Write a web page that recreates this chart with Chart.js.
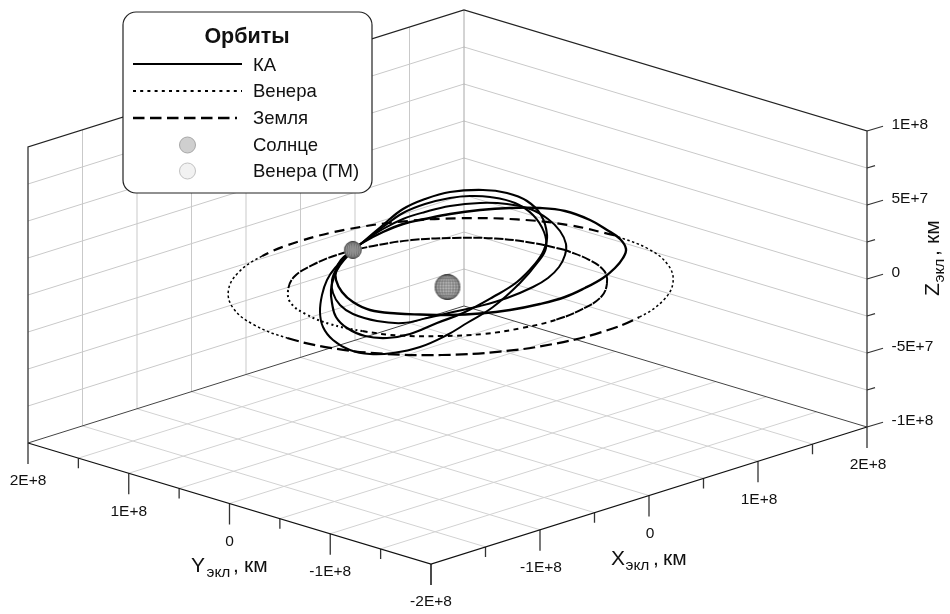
<!DOCTYPE html>
<html>
<head>
<meta charset="utf-8">
<title>Орбиты</title>
<script src="https://cdn.jsdelivr.net/npm/chart.js@4"></script>
<style>
  body { margin: 0; background: #fff; }
  canvas { display: block; }
</style>
</head>
<body>
<canvas id="orbitChart" width="950" height="614"></canvas>
<script>
// Axis ticks, km
const xyTicks = [-2e8, -1.5e8, -1e8, -5e7, 0, 5e7, 1e8, 1.5e8, 2e8];
const zTicks = [-1e8, -7.5e7, -5e7, -2.5e7, 0, 2.5e7, 5e7, 7.5e7, 1e8];
const xyLabels = [[-1e8, '-1E+8'], [0, '0'], [1e8, '1E+8'], [2e8, '2E+8']];
const yLabels = [[-2e8, '-2E+8'], [-1e8, '-1E+8'], [0, '0'], [1e8, '1E+8'], [2e8, '2E+8']];
const zLabels = [[-1e8, '-1E+8'], [-5e7, '-5E+7'], [0, '0'], [5e7, '5E+7'], [1e8, '1E+8']];

// Planet orbits in the ecliptic plane, units of 1E+8 km
const earthX = [1.52, 1.47, 1.32, 1.08, .77, .41, .02, -.37, -.73, -1.04, -1.28, -1.43, -1.48, -1.43, -1.28, -1.04, -.73, -.37, .02, .41, .77, 1.08, 1.32, 1.47, 1.52];
const earthY = [-.01, .38, .74, 1.05, 1.29, 1.44, 1.49, 1.44, 1.29, 1.05, .74, .38, -.01, -.40, -.76, -1.07, -1.31, -1.46, -1.51, -1.46, -1.31, -1.07, -.76, -.40, -.01];
const venusX = [1.08, 1.04, .94, .76, .54, .28, 0, -.28, -.54, -.76, -.94, -1.04, -1.08, -1.04, -.94, -.76, -.54, -.28, 0, .28, .54, .76, .94, 1.04, 1.08];
const venusY = [0, .28, .54, .76, .94, 1.04, 1.08, 1.04, .94, .76, .54, .28, 0, -.28, -.54, -.76, -.94, -1.04, -1.08, -1.04, -.94, -.76, -.54, -.28, 0];

// Bodies, units of 1E+8 km
const sunPos = [0, 0, 0];
const venusPos = [0.13, 1.08, 0];

// Spacecraft loops, in picture-plane units (3D depth is not recoverable)
const scAx = [353, 362, 383, 403, 425, 450, 480, 510, 540, 565, 590, 607, 620, 626, 623, 615, 603, 585, 565, 540, 510, 480, 450, 420, 397, 370, 353, 342, 336, 336, 341, 353];
const scAy = [250, 243, 232, 224, 219, 214, 210, 208, 208, 211, 220, 230, 239, 249, 258, 268, 278, 288, 297, 304, 310, 313.5, 315, 314.5, 313.5, 310, 302, 292, 280, 270, 260, 250];
const scBx = [353, 362, 383, 403, 425, 450, 480, 507, 530, 548, 560, 566, 565, 559, 548, 533, 507, 480, 453, 427, 403, 377, 353, 340, 333, 332, 337, 345, 353];
const scBy = [250, 243, 229, 219, 212, 206, 203, 204, 209, 219, 231, 244, 255, 267, 278, 287, 298, 306, 312, 318, 323, 321, 314, 305, 293, 280, 268, 257, 250];
const scCx = [353, 362, 383, 403, 425, 450, 483, 507, 527, 541, 547, 544, 535, 517, 493, 463, 437, 410, 387, 365, 347, 336, 332, 331, 334, 340, 353];
const scCy = [250, 243, 225, 209, 199, 192, 190, 193, 201, 215, 235, 250, 264, 282, 297, 313, 323, 334, 338, 336, 328, 317, 303, 290, 277, 265, 250];
const scDx = [353, 362, 383, 403, 425, 450, 470, 490, 515, 533, 544, 546, 538, 520, 493, 467, 447, 420, 393, 370, 350, 333, 323, 320, 322, 327, 335, 353];
const scDy = [250, 243, 227, 213, 204, 198, 196, 197, 203, 215, 232, 248, 262, 283, 307, 323, 335, 347, 353, 354, 350, 340, 327, 312, 295, 280, 268, 250];

const FONT = '"Liberation Sans", Arial, sans-serif';

// Parallel projection of the box onto the picture plane
function project(x, y, z) {
  const u = (x + 2) / 4, v = (y + 2) / 4, w = (z + 1) / 2;
  return { x: 431 + 436 * u - 403 * v, y: 564 - 137 * u - 121 * v - 296 * w };
}
function km(x, y, z) { return project(x / 1e8, y / 1e8, z / 1e8); }

const datasets = [];
function addLine(points, color, width, order) {
  datasets.push({ data: points, showLine: true, pointRadius: 0, borderColor: color, borderWidth: width, order: order, tension: 0 });
}

// Walls and floor grid
zTicks.slice(1, -1).forEach(function(z) {
  addLine([km(-2e8, 2e8, z), km(2e8, 2e8, z), km(2e8, -2e8, z)], '#c9c9c9', 1, 9);
});
xyTicks.slice(1, -1).forEach(function(t) {
  addLine([km(t, 2e8, -1e8), km(t, 2e8, 1e8)], '#c9c9c9', 1, 9);
  addLine([km(t, 2e8, -1e8), km(t, -2e8, -1e8)], '#d2d2d2', 1, 9);
  addLine([km(-2e8, t, -1e8), km(2e8, t, -1e8)], '#d2d2d2', 1, 9);
});
addLine([km(2e8, 2e8, -1e8), km(2e8, 2e8, 1e8)], '#a8a8a8', 1, 8);

// Box edges
addLine([km(-2e8, 2e8, -1e8), km(-2e8, 2e8, 1e8), km(2e8, 2e8, 1e8), km(2e8, -2e8, 1e8), km(2e8, -2e8, -1e8)], '#222', 1.2, 7);
addLine([km(-2e8, 2e8, -1e8), km(2e8, 2e8, -1e8), km(2e8, -2e8, -1e8)], '#444', 1, 7);
addLine([km(-2e8, 2e8, -1e8), km(-2e8, -2e8, -1e8), km(2e8, -2e8, -1e8)], '#111', 1.3, 7);

// Axis tick marks
xyTicks.forEach(function(t, i) {
  const len = i % 2 === 0 ? 21 : 10;
  const a = km(-2e8, t, -1e8), b = km(t, -2e8, -1e8);
  addLine([a, { x: a.x, y: a.y + len }], '#333', 1.3, 7);
  addLine([b, { x: b.x, y: b.y + len }], '#333', 1.3, 7);
});
zTicks.forEach(function(z, i) {
  const s = i % 2 === 0 ? 1 : 0.5;
  const a = km(2e8, -2e8, z);
  addLine([a, { x: a.x + 16 * s, y: a.y - 4.8 * s }], '#333', 1.2, 7);
});

// Orbits: dash length follows the foreshortening of the drawn ellipse
function orbitData(xs, ys) {
  return xs.map(function(x, i) { return project(x, ys[i], 0); });
}
datasets.push({
  data: orbitData(earthX, earthY), showLine: true, pointRadius: 0, borderColor: '#000', borderWidth: 2, tension: 0.4, order: 4,
  segment: {
    borderDash: function(ctx) {
      const x = ctx.p0.parsed.x, y = ctx.p0.parsed.y;
      if (x < 265 || x > 625) return [2.5, 2.5];
      return y > 287 ? [12, 5] : [10, 6];
    },
    borderWidth: function(ctx) {
      const x = ctx.p0.parsed.x;
      return (x < 265 || x > 625) ? 1.5 : 2.2;
    }
  }
});
datasets.push({
  data: orbitData(venusX, venusY), showLine: true, pointRadius: 0, borderColor: '#000', borderWidth: 2, tension: 0.4, order: 4,
  segment: {
    borderDash: function(ctx) {
      const x = ctx.p0.parsed.x, y = ctx.p0.parsed.y;
      if (y < 287) return [9, 1.5];
      if (x > 530) return [9, 1];
      return x < 350 ? [2, 3] : [5, 4.5];
    }
  }
});

// Spacecraft
[[scAx, scAy, 2.4], [scBx, scBy, 2], [scCx, scCy, 2.2], [scDx, scDy, 2]].forEach(function(c) {
  datasets.push({
    data: c[0].map(function(x, i) { return { x: x, y: c[1][i] }; }),
    showLine: true, pointRadius: 0, borderColor: '#000', borderWidth: c[2], tension: 0.4, order: 3
  });
});

// Meshed sphere used as a point image
function sphereImage(r) {
  const size = r * 2 + 2, c = size / 2;
  const cv = document.createElement('canvas');
  cv.width = size; cv.height = size;
  const g = cv.getContext('2d');
  const fill = g.createRadialGradient(c, c, r * 0.2, c, c, r);
  fill.addColorStop(0, '#c4c4c4');
  fill.addColorStop(0.7, '#b0b0b0');
  fill.addColorStop(1, '#787878');
  g.fillStyle = fill;
  g.beginPath(); g.arc(c, c, r, 0, Math.PI * 2); g.fill();
  g.save();
  g.clip();
  g.strokeStyle = 'rgba(60,60,60,0.5)';
  g.lineWidth = 0.6;
  for (let i = -4; i <= 4; i++) {
    const k = i / 4.5;
    g.beginPath(); g.ellipse(c, c, Math.abs(k) * r, r, 0, 0, Math.PI * 2); g.stroke();
    const dy = k * r;
    g.beginPath(); g.moveTo(0, c + dy); g.lineTo(size, c + dy); g.stroke();
  }
  g.restore();
  return cv;
}
datasets.push({
  data: [project(sunPos[0], sunPos[1], sunPos[2])], pointStyle: sphereImage(13), pointRadius: 13, order: 1
});
datasets.push({
  data: [project(venusPos[0], venusPos[1], venusPos[2])], pointStyle: sphereImage(9), pointRadius: 9, order: 1
});

function text(ctx, str, x, y, size, align, weight) {
  ctx.font = (weight || '') + ' ' + size + 'px ' + FONT;
  ctx.textAlign = align || 'left';
  ctx.fillText(str, x, y);
}

// Y_экл, км style title, drawn along +x of the current transform
function axisTitle(ctx, letter, dx1, dx2, dx3) {
  ctx.textBaseline = 'alphabetic';
  text(ctx, letter, 0, 0, 21);
  text(ctx, 'экл', dx1, 5, 15.5);
  text(ctx, ',', dx2, 0, 21);
  text(ctx, 'км', dx3, 0, 21);
}

const decorations = {
  id: 'decorations',
  afterDatasetsDraw: function(chart) {
    const ctx = chart.ctx;
    const sx = chart.scales.x, sy = chart.scales.y;
    ctx.save();
    ctx.fillStyle = '#111';
    ctx.textBaseline = 'middle';

    // Tick labels
    yLabels.forEach(function(l) {
      const p = km(-2e8, l[0], -1e8);
      text(ctx, l[1], sx.getPixelForValue(p.x), sy.getPixelForValue(p.y) + 38, 15.5, 'center');
    });
    xyLabels.forEach(function(l) {
      const p = km(l[0], -2e8, -1e8);
      text(ctx, l[1], sx.getPixelForValue(p.x) + 1, sy.getPixelForValue(p.y) + 38, 15.5, 'center');
    });
    zLabels.forEach(function(l) {
      const p = km(2e8, -2e8, l[0]);
      text(ctx, l[1], sx.getPixelForValue(p.x) + 24.5, sy.getPixelForValue(p.y) - 6, 15.5, 'left');
    });

    // Axis titles
    ctx.save(); ctx.translate(191, 572); axisTitle(ctx, 'Y', 15.5, 42, 53); ctx.restore();
    ctx.save(); ctx.translate(611, 565); axisTitle(ctx, 'X', 14.5, 42, 52); ctx.restore();
    ctx.save(); ctx.translate(939, 296); ctx.rotate(-Math.PI / 2); axisTitle(ctx, 'Z', 13.5, 40, 52); ctx.restore();

    // Legend box
    ctx.beginPath();
    ctx.roundRect(123, 12, 249, 181, 13);
    ctx.fillStyle = '#fff';
    ctx.fill();
    ctx.strokeStyle = '#222';
    ctx.lineWidth = 1.2;
    ctx.stroke();

    ctx.fillStyle = '#111';
    ctx.textBaseline = 'alphabetic';
    text(ctx, 'Орбиты', 247, 43, 21.5, 'center', 'bold');
    text(ctx, 'КА', 253, 71, 18.5);
    text(ctx, 'Венера', 253, 97, 18.5);
    text(ctx, 'Земля', 253, 124, 18.5);
    text(ctx, 'Солнце', 253, 151, 18.5);
    text(ctx, 'Венера (ГМ)', 253, 177, 18.5);

    ctx.strokeStyle = '#000';
    [[64, 2, []], [91, 2, [3, 4.2]], [118, 2.4, [11.5, 5.5]]].forEach(function(s) {
      ctx.beginPath();
      ctx.lineWidth = s[1];
      ctx.setLineDash(s[2]);
      ctx.moveTo(133, s[0]);
      ctx.lineTo(s[0] === 118 ? 237 : 242, s[0]);
      ctx.stroke();
    });
    ctx.setLineDash([]);
    [[145, '#cfcfcf', '#a8a8a8'], [171, '#f2f2f2', '#c2c2c2']].forEach(function(s) {
      ctx.beginPath();
      ctx.arc(187.5, s[0], 8, 0, Math.PI * 2);
      ctx.fillStyle = s[1];
      ctx.fill();
      ctx.strokeStyle = s[2];
      ctx.lineWidth = 1;
      ctx.stroke();
    });
    ctx.restore();
  }
};

new Chart(document.getElementById('orbitChart').getContext('2d'), {
  type: 'scatter',
  data: { datasets: datasets },
  plugins: [decorations],
  options: {
    responsive: false,
    animation: false,
    layout: { padding: 0, autoPadding: false },
    plugins: { legend: { display: false }, tooltip: { enabled: false } },
    scales: {
      x: { type: 'linear', min: 0, max: 950, display: false },
      y: { type: 'linear', min: 0, max: 614, reverse: true, display: false }
    }
  }
});
</script>
</body>
</html>
